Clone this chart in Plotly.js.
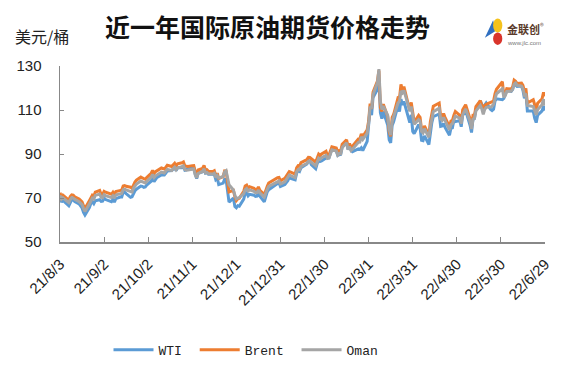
<!DOCTYPE html>
<html><head><meta charset="utf-8">
<script src="https://cdn.plot.ly/plotly-3.0.1.min.js"></script>
<style>html,body{margin:0;padding:0;background:#fff}#chart{width:569px;height:372px}</style>
</head><body><div id="chart"></div>
<script>
const dates = [
'2021-08-03','2021-08-04','2021-08-05','2021-08-06','2021-08-09','2021-08-10','2021-08-11','2021-08-12','2021-08-13','2021-08-16','2021-08-17','2021-08-18','2021-08-19','2021-08-20','2021-08-23','2021-08-24','2021-08-25','2021-08-26','2021-08-27','2021-08-30','2021-08-31',
'2021-09-01','2021-09-02','2021-09-03','2021-09-07','2021-09-08','2021-09-09','2021-09-10','2021-09-13','2021-09-14','2021-09-15','2021-09-16','2021-09-17','2021-09-20','2021-09-21','2021-09-22','2021-09-23','2021-09-24','2021-09-27','2021-09-28','2021-09-29','2021-09-30',
'2021-10-01','2021-10-04','2021-10-05','2021-10-06','2021-10-07','2021-10-08','2021-10-11','2021-10-12','2021-10-13','2021-10-14','2021-10-15','2021-10-18','2021-10-19','2021-10-20','2021-10-21','2021-10-22','2021-10-25','2021-10-26','2021-10-27','2021-10-28','2021-10-29',
'2021-11-01','2021-11-02','2021-11-03','2021-11-04','2021-11-05','2021-11-08','2021-11-09','2021-11-10','2021-11-11','2021-11-12','2021-11-15','2021-11-16','2021-11-17','2021-11-18','2021-11-19','2021-11-22','2021-11-23','2021-11-24','2021-11-26','2021-11-29','2021-11-30',
'2021-12-01','2021-12-02','2021-12-03','2021-12-06','2021-12-07','2021-12-08','2021-12-09','2021-12-10','2021-12-13','2021-12-14','2021-12-15','2021-12-16','2021-12-17','2021-12-20','2021-12-21','2021-12-22','2021-12-23','2021-12-27','2021-12-28','2021-12-29','2021-12-30','2021-12-31',
'2022-01-03','2022-01-04','2022-01-05','2022-01-06','2022-01-07','2022-01-10','2022-01-11','2022-01-12','2022-01-13','2022-01-14','2022-01-18','2022-01-19','2022-01-20','2022-01-21','2022-01-24','2022-01-25','2022-01-26','2022-01-27','2022-01-28','2022-01-31',
'2022-02-01','2022-02-02','2022-02-03','2022-02-04','2022-02-07','2022-02-08','2022-02-09','2022-02-10','2022-02-11','2022-02-14','2022-02-15','2022-02-16','2022-02-17','2022-02-18','2022-02-22','2022-02-23','2022-02-24','2022-02-25','2022-02-28',
'2022-03-01','2022-03-02','2022-03-03','2022-03-04','2022-03-07','2022-03-08','2022-03-09','2022-03-10','2022-03-11','2022-03-14','2022-03-15','2022-03-16','2022-03-17','2022-03-18','2022-03-21','2022-03-22','2022-03-23','2022-03-24','2022-03-25','2022-03-28','2022-03-29','2022-03-30','2022-03-31',
'2022-04-01','2022-04-04','2022-04-05','2022-04-06','2022-04-07','2022-04-08','2022-04-11','2022-04-12','2022-04-13','2022-04-14','2022-04-18','2022-04-19','2022-04-20','2022-04-21','2022-04-22','2022-04-25','2022-04-26','2022-04-27','2022-04-28','2022-04-29',
'2022-05-02','2022-05-03','2022-05-04','2022-05-05','2022-05-06','2022-05-09','2022-05-10','2022-05-11','2022-05-12','2022-05-13','2022-05-16','2022-05-17','2022-05-18','2022-05-19','2022-05-20','2022-05-23','2022-05-24','2022-05-25','2022-05-26','2022-05-27','2022-05-31',
'2022-06-01','2022-06-02','2022-06-03','2022-06-06','2022-06-07','2022-06-08','2022-06-09','2022-06-10','2022-06-13','2022-06-14','2022-06-15','2022-06-16','2022-06-17','2022-06-21','2022-06-22','2022-06-23','2022-06-24','2022-06-27','2022-06-28','2022-06-29'
];

const wti = [
70.56,68.15,69.09,68.28,66.48,68.29,69.25,69.09,68.44,67.29,66.59,65.46,63.50,62.32,65.64,67.54,68.36,67.42,68.74,69.21,68.50,
68.59,69.99,69.29,68.35,69.30,68.14,69.72,70.45,70.46,72.61,72.61,71.97,70.29,70.56,72.23,73.30,73.98,75.45,75.29,74.83,75.03,
75.88,77.62,78.93,77.43,78.30,79.35,80.52,80.64,80.44,81.31,82.28,82.44,82.96,83.87,82.50,83.76,83.76,84.65,82.66,82.81,83.57,
84.05,83.91,80.86,78.81,81.27,81.93,84.15,81.34,81.59,80.79,80.88,80.76,78.36,79.01,76.10,76.75,78.50,78.39,68.15,69.95,66.18,
65.57,66.50,66.26,69.49,72.05,72.36,70.94,71.67,71.29,70.73,70.87,72.38,70.86,68.23,71.12,72.76,73.79,75.57,75.98,76.56,76.99,75.21,
76.08,76.99,77.85,79.46,78.90,78.23,81.22,82.64,82.12,83.82,85.43,86.96,86.90,85.14,83.31,85.60,87.35,86.61,86.82,88.15,
88.20,88.26,90.27,92.31,91.32,89.36,89.66,89.88,93.10,95.46,92.07,93.66,91.76,91.07,92.35,92.10,92.81,91.59,95.72,
103.41,110.60,107.67,115.68,119.40,123.70,108.70,106.02,109.33,103.01,96.44,95.04,102.98,104.70,112.12,109.27,114.93,112.34,113.90,105.96,104.24,107.82,100.28,
99.27,103.28,101.96,96.23,96.03,98.26,94.29,100.60,104.25,106.95,108.21,102.56,102.75,103.79,102.07,98.54,101.70,101.90,105.36,104.69,
105.17,102.41,107.81,108.26,109.77,103.09,99.76,105.71,106.13,110.49,114.20,112.40,109.59,112.21,113.23,110.29,109.77,110.33,114.09,115.07,114.67,
115.26,116.87,118.87,118.50,119.41,122.11,121.51,120.67,120.93,118.93,115.31,117.59,109.56,109.52,106.19,104.27,107.62,109.57,111.76,109.78
];

const brent = [
72.41,70.38,71.29,70.70,69.04,70.63,71.44,71.31,70.59,69.51,69.03,68.23,66.45,65.18,68.75,70.05,71.25,70.79,72.70,73.41,71.63,
71.59,73.03,72.61,71.69,72.60,71.45,72.92,73.51,73.60,75.46,75.67,75.34,74.92,74.36,76.19,77.25,78.09,79.53,79.09,78.64,78.52,
79.28,81.26,82.56,81.08,81.95,82.39,83.65,83.42,83.18,84.00,84.86,84.33,85.08,85.82,84.61,85.53,85.99,86.40,84.58,84.32,84.38,
84.71,84.72,81.99,80.54,82.74,83.43,84.78,82.64,82.87,82.17,82.05,82.43,80.28,81.24,78.89,79.70,82.31,82.25,72.72,73.44,70.57,
68.87,69.67,69.88,73.08,75.44,75.82,74.42,75.15,74.39,73.70,73.88,75.02,73.52,71.52,73.98,75.29,76.85,78.60,78.94,79.23,79.32,77.78,
78.98,80.00,80.80,81.99,81.75,80.87,83.72,84.67,84.47,86.06,87.51,88.44,88.38,87.89,86.27,88.20,89.96,89.34,90.03,91.21,
89.16,89.47,91.11,93.27,92.69,90.78,91.55,91.41,94.44,96.48,93.28,94.81,92.97,93.54,96.84,96.84,99.08,97.93,100.99,
104.97,112.93,110.46,118.11,123.21,127.98,111.14,109.33,112.67,106.90,99.91,98.02,106.64,107.93,115.62,115.48,121.60,119.03,120.65,112.48,110.23,113.45,107.91,
104.39,107.53,106.64,101.07,100.58,102.78,98.48,104.64,108.78,111.70,113.16,107.25,106.80,108.33,106.65,102.32,104.99,105.32,107.59,109.34,
107.58,104.97,110.14,111.55,112.39,105.94,102.46,107.51,107.45,111.55,114.24,111.93,109.11,112.04,112.55,113.42,113.56,114.03,117.40,119.43,122.84,
116.29,117.61,119.72,119.51,120.57,123.58,123.07,122.01,122.27,121.17,118.51,119.81,113.12,114.65,111.74,110.05,113.12,115.09,117.98,116.26
];

const oman = [
71.2,69.4,70.1,69.6,67.9,69.3,70.2,70.0,69.4,68.3,67.8,67.0,65.2,63.9,67.3,68.7,69.9,69.5,71.2,71.8,70.3,
70.1,71.5,71.1,70.2,71.0,70.0,71.4,72.0,72.1,73.8,74.0,73.7,73.2,72.7,74.5,75.5,76.3,77.7,77.3,76.9,76.8,
77.5,79.4,80.7,79.3,80.1,80.6,81.8,81.6,81.4,82.2,83.0,82.5,83.2,84.0,82.8,83.7,84.2,84.6,82.9,82.6,82.7,
83.1,83.2,80.6,79.2,81.2,82.0,83.3,81.4,81.6,81.0,80.9,81.3,79.3,80.2,79.0,79.8,81.9,82.4,76.0,73.6,71.2,
69.6,69.9,70.2,72.0,73.8,74.3,73.2,73.7,73.0,72.4,72.5,73.6,72.3,70.4,72.6,73.9,75.3,76.9,77.3,77.6,77.7,76.4,
77.4,78.4,79.2,80.4,80.2,79.3,82.0,82.9,82.8,84.3,85.8,86.7,86.6,86.2,84.6,86.4,88.1,87.6,88.3,89.4,
88.0,88.2,89.8,91.9,91.4,89.5,90.2,90.1,93.0,95.1,92.0,93.4,91.6,92.2,95.3,95.4,97.8,96.6,99.5,
104.0,111.5,110.8,117.0,122.5,128.6,114.0,110.2,111.8,107.5,101.2,98.6,104.8,107.0,113.2,114.0,118.6,117.8,118.9,112.0,109.4,111.6,106.8,
103.5,105.6,105.0,100.2,99.6,101.5,97.6,102.4,106.4,109.2,110.8,105.9,105.3,106.6,105.2,101.0,103.3,103.8,105.6,107.2,
106.3,103.8,107.9,109.6,110.5,104.8,101.4,105.8,106.2,109.6,112.0,110.5,108.0,110.3,111.2,111.4,111.8,112.6,115.2,117.4,119.6,
115.8,116.6,118.4,118.6,119.5,121.8,122.3,121.2,120.9,119.6,116.8,117.4,112.1,111.6,109.3,107.8,110.2,112.4,114.9,112.0
];

const tickDates = ['2021-08-03','2021-09-02','2021-10-02','2021-11-01','2021-12-01','2021-12-31','2022-01-30','2022-03-01','2022-03-31','2022-04-30','2022-05-30','2022-06-29'];
const tickLabels = ['21/8/3','21/9/2','21/10/2','21/11/1','21/12/1','21/12/31','22/1/30','22/3/1','22/3/31','22/4/30','22/5/30','22/6/29'];
const yTicks = [50,70,90,110,130];

const seriesNames = ['WTI','Brent','Oman'];
const seriesColors = ['#5B9BD5','#ED7D31','#A5A5A5'];
const seriesValues = [wti, brent, oman];

const traces = seriesValues.map((v,i)=>({
  x: dates, y: v, type:'scatter', mode:'lines', name: seriesNames[i] + '\u00a0',
  line:{color: seriesColors[i], width: 3}
}));

const layout = {
  width:569, height:372,
  margin:{l:60, r:24, t:66, b:130, autoexpand:false},
  paper_bgcolor:'#fff', plot_bgcolor:'#fff',
  font:{family:'Liberation Sans, Arial, sans-serif', color:'#222'},
  title:{text:'近一年国际原油期货价格走势', font:{family:'Noto Sans CJK SC', size:25, color:'#111', weight:'bold'},
    x:0.47, xanchor:'center', xref:'container', y:0.925, yanchor:'middle', yref:'container'},
  showlegend:true,
  legend:{orientation:'h', x:0.1, xanchor:'left', y:0.06, yref:'container', yanchor:'middle',
    font:{family:'Liberation Mono, DejaVu Sans Mono, monospace', size:13, color:'#222'}, itemwidth:40},
  xaxis:{type:'date', range:['2021-08-03','2022-06-29'], tickmode:'array', tickvals:tickDates, ticktext:tickLabels,
    tickangle:-45, ticks:'inside', ticklen:5, tickcolor:'#888', showline:true, linecolor:'#888', linewidth:1.5,
    showgrid:false, zeroline:false, tickfont:{size:15, color:'#222'}, ticklabelstandoff:6},
  yaxis:{range:[50,130], tickmode:'array', tickvals:yTicks, ticks:'inside', ticklen:4, tickcolor:'#888',
    showline:true, linecolor:'#888', linewidth:1.5, showgrid:false, zeroline:false,
    tickfont:{size:15, color:'#222'}, ticklabelstandoff:14},
  annotations:[
    {text:'美元/桶', xref:'paper', yref:'paper', x:-0.097, y:1.17, xanchor:'left', yanchor:'middle', showarrow:false,
     font:{family:'Noto Sans CJK SC', size:16, color:'#222'}},
    {text:'<b>金联创</b><sup>®</sup>', xref:'paper', yref:'paper', x:0.918, y:1.215, xanchor:'left', yanchor:'middle', showarrow:false,
     font:{family:'Noto Sans CJK SC', size:11, color:'#5a3a2a'}},
    {text:'www.jlc.com', xref:'paper', yref:'paper', x:0.918, y:1.13, xanchor:'left', yanchor:'middle', showarrow:false,
     font:{family:'Liberation Sans', size:6, color:'#777'}}
  ],
  shapes:[
    {type:'path', xref:'paper', yref:'paper', path:'M0.876,1.16 L0.893,1.26 L0.899,1.20 Z', fillcolor:'#2f6fc0', line:{width:0}},
    {type:'circle', xref:'paper', yref:'paper', x0:0.893, x1:0.912, y0:1.19, y1:1.27, fillcolor:'#f5c21b', line:{width:0}},
    {type:'circle', xref:'paper', yref:'paper', x0:0.893, x1:0.912, y0:1.12, y1:1.19, fillcolor:'#d9342b', line:{width:0}}
  ]
};

Plotly.newPlot('chart', traces, layout, {staticPlot:true, displayModeBar:false});
</script>
</body></html>
